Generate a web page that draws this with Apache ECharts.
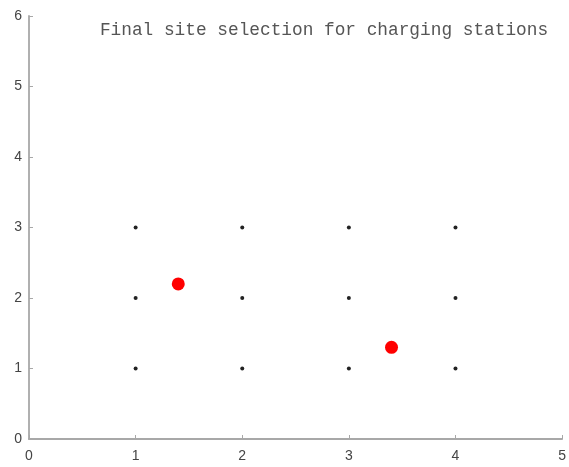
<!DOCTYPE html>
<html><head><meta charset="utf-8">
<script src="https://cdn.jsdelivr.net/npm/echarts@6/dist/echarts.min.js"></script>
<style>html,body{margin:0;padding:0;background:#fff}#c{width:569px;height:467px}</style>
</head><body><div id="c"></div>
<script>
const titleText = "Final site selection for charging stations";
const xTicks = [0, 1, 2, 3, 4, 5];
const yTicks = [0, 1, 2, 3, 4, 5, 6];
const candidateX = [1, 2, 3, 4];
const candidateY = [1, 2, 3];
const selectedSites = [[1.4, 2.2], [3.4, 1.3]];

const candidates = [];
candidateX.forEach(x => candidateY.forEach(y => candidates.push([x, y])));

const chart = echarts.init(document.getElementById('c'));
const axisCommon = {
  axisLine: {show: true, lineStyle: {color: '#a8a8a8', width: 1.8}},
  axisTick: {show: true, inside: true, length: 4, lineStyle: {color: '#a8a8a8'}},
  splitLine: {show: false},
  axisLabel: {color: '#444', fontSize: 14, fontFamily: 'Liberation Sans, Arial'}
};
chart.setOption({
  animation: false,
  title: {
    text: titleText, left: 319, top: 16, textAlign: 'center',
    textStyle: {fontFamily: 'Liberation Mono, monospace', fontWeight: 'normal', fontSize: 17.8, color: '#555'}
  },
  grid: {left: 29, right: 4, top: 16, bottom: 28},
  xAxis: Object.assign({type: 'value', min: xTicks[0], max: xTicks[xTicks.length-1], interval: 1}, axisCommon,
    {axisLabel: Object.assign({}, axisCommon.axisLabel, {margin: 10})}),
  yAxis: Object.assign({type: 'value', min: yTicks[0], max: yTicks[yTicks.length-1], interval: 1}, axisCommon,
    {axisLabel: Object.assign({}, axisCommon.axisLabel, {margin: 7})}),
  series: [
    {type: 'scatter', data: candidates, symbolSize: 4, itemStyle: {color: '#222', opacity: 1}},
    {type: 'scatter', data: selectedSites, symbolSize: 13, itemStyle: {color: '#ff0000', opacity: 1}}
  ]
});
</script></body></html>
